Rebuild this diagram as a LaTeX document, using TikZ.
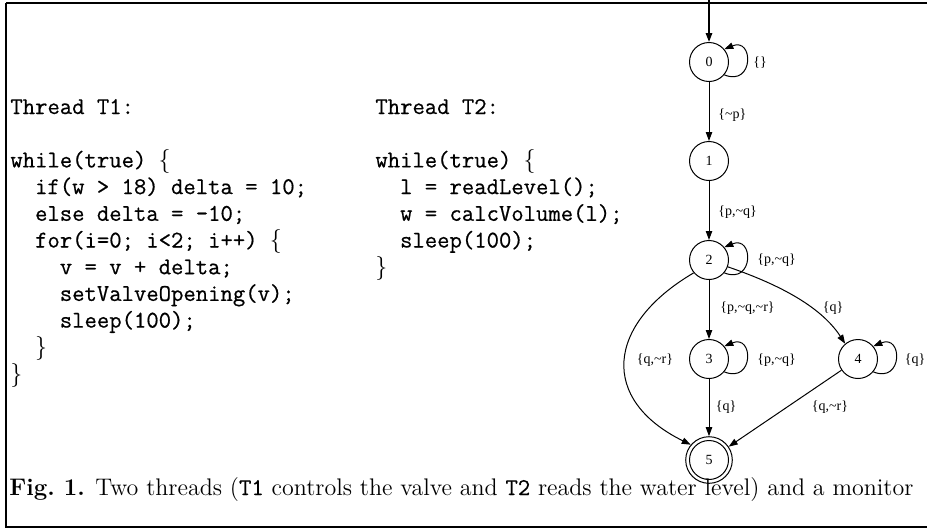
\documentclass[tikz,border=0pt]{standalone}
\usepackage{fontspec}
\setmonofont{Latin Modern Mono}[FakeBold=0.6]
\newfontfamily\gvfont{Liberation Serif}
\usetikzlibrary{arrows.meta,calc}
\begin{document}
\begin{tikzpicture}[x=0.5pt,y=-0.5pt,
  st/.style={circle,draw,line width=0.5pt,inner sep=0pt,minimum size=19.5pt,font=\gvfont\fontsize{7}{8}\selectfont},
  lbl/.style={font=\gvfont\fontsize{7}{8}\selectfont,inner sep=0pt},
  edge/.style={draw,line width=0.5pt,-{Triangle[length=4.5pt,width=3.2pt]}},
  code/.style={font=\ttfamily\fontsize{12}{13.35}\selectfont,inner sep=0pt,anchor=base west}]
\useasboundingbox (0,0) rectangle (927,531);
% frame
\draw[line width=1.2pt] (6,3) -- (927,3);
\draw[line width=0.9pt] (6,3) -- (6,528);
\draw[line width=0.7pt] (6,527) -- (927,527);
% code
\node[code] (t1) at (10,114) {\begin{tabular}[t]{@{}l@{}}
Thread T1:\\
\\
while(true) $\{$\\
\hphantom{xx}if(w > 18) delta = 10;\\
\hphantom{xx}else delta = -10;\\
\hphantom{xx}for(i=0; i<2; i++) $\{$\\
\hphantom{xxxx}v = v + delta;\\
\hphantom{xxxx}setValveOpening(v);\\
\hphantom{xxxx}sleep(100);\\
\hphantom{xx}$\}$\\
$\}$
\end{tabular}};
\node[code] (t2) at (375,114) {\begin{tabular}[t]{@{}l@{}}
Thread T2:\\
\\
while(true) $\{$\\
\hphantom{xx}l = readLevel();\\
\hphantom{xx}w = calcVolume(l);\\
\hphantom{xx}sleep(100);\\
$\}$
\end{tabular}};
% caption
\node[anchor=base west,inner sep=0pt,font=\fontsize{12}{14}\selectfont] (cap) at (9,495)
  {\textbf{Fig.~1.} Two threads (\texttt{T1} controls the valve and \texttt{T2} reads the water level) and a monitor};
% automaton
\coordinate (top) at (709,0);
\node[st] (n0) at (709,62) {0};
\node[st] (n1) at (709,161) {1};
\node[st] (n2) at (709,260) {2};
\node[st] (n3) at (709,359) {3};
\node[st] (n4) at (858,359) {4};
\node[st,minimum size=23.3pt] (n5) at (709,460) {5};
\draw[line width=0.5pt] (n5.center) circle[radius=9.75pt];
\draw[edge,line width=0.9pt] (top) -- (n0);
\draw[edge] (n0) -- (n1);
\draw[edge] (n1) -- (n2);
\draw[edge] (n2) -- (n3);
\draw[edge] (n3) -- (n5);
\draw[edge] (n4) -- (n5);
\draw[edge] (n2.-20) .. controls (775,283) and (820,305) .. (n4.130);
\draw[edge] (n2.-140) .. controls (605,325) and (600,400) .. (n5.140);
\foreach \n in {n0,n2,n3,n4}{
  \draw[edge] (\n.-40) .. controls ($(\n)+(45,25)$) and ($(\n)+(45,-25)$) .. (\n.40);
}
% labels
\node[lbl] (l0) at (760,63) {\{\}};
\node[lbl,anchor=west] (l01) at (718,115) {\{\textasciitilde p\}};
\node[lbl,anchor=west] (l12) at (718,212) {\{p,\textasciitilde q\}};
\node[lbl,anchor=west] (l22) at (757,260) {\{p,\textasciitilde q\}};
\node[lbl,anchor=west] (l23) at (720,308) {\{p,\textasciitilde q,\textasciitilde r\}};
\node[lbl] (l24) at (833,308) {\{q\}};
\node[lbl] (l25) at (655,360) {\{q,\textasciitilde r\}};
\node[lbl,anchor=west] (l33) at (757,360) {\{p,\textasciitilde q\}};
\node[lbl] (l44) at (915,360) {\{q\}};
\node[lbl] (l35) at (726,407) {\{q\}};
\node[lbl] (l45) at (830,407) {\{q,\textasciitilde r\}};
\end{tikzpicture}
\end{document}
